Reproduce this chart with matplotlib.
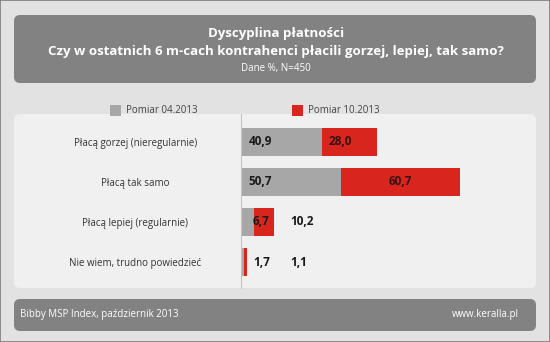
import matplotlib
matplotlib.use('Agg')
import matplotlib.pyplot as plt
from matplotlib.patches import FancyBboxPatch, Rectangle

plt.rcParams['font.family'] = ['Open Sans', 'DejaVu Sans']

# Data
categories = ['Płacą gorzej (nieregularnie)', 'Płacą tak samo',
              'Płacą lepiej (regularnie)', 'Nie wiem, trudno powiedzieć']
pomiar_04 = [40.9, 50.7, 6.7, 1.7]
pomiar_10 = [28.0, 60.7, 10.2, 1.1]
series_names = ['Pomiar 04.2013', 'Pomiar 10.2013']

title = 'Dyscyplina płatności'
subtitle = 'Czy w ostatnich 6 m-cach kontrahenci płacili gorzej, lepiej, tak samo?'
note = 'Dane %, N=450'
source = 'Bibby MSP Index, październik 2013'
site = 'www.keralla.pl'

W, H = 550, 342
GRAY = '#a7a7a7'
RED = '#d8261e'
BOX = '#828282'


def fx(x):
    return x / W


def fy(y):
    return 1 - y / H


fig = plt.figure(figsize=(W / 100, H / 100), dpi=100)
fig.patch.set_facecolor('#e2e2e2')

# outer frame
fig.add_artist(Rectangle((0, 0), 1, 1, transform=fig.transFigure,
                         fill=False, edgecolor='#7c7c7c', linewidth=1.2))


def rbox(x0, y0, x1, y1, color, r=6):
    p = FancyBboxPatch((fx(x0), fy(y1)), fx(x1 - x0), (y1 - y0) / H,
                       boxstyle='round,pad=0,rounding_size=%f' % (r / W),
                       transform=fig.transFigure, facecolor=color,
                       edgecolor='none', zorder=0, mutation_aspect=W / H)
    fig.add_artist(p)


rbox(14, 15, 536, 83, BOX)
rbox(14, 114, 536, 288, '#f0f0f0')
rbox(14, 299, 536, 331, BOX)

# title block
fig.text(fx(276), fy(34), title, color='white', fontsize=9.5,
         fontweight='bold', ha='center', va='center')
fig.text(fx(276), fy(52), subtitle, color='white', fontsize=9.5,
         fontweight='bold', ha='center', va='center')
fig.text(fx(276), fy(68), note, color='white', fontsize=7,
         ha='center', va='center')

# legend
fig.add_artist(Rectangle((fx(110), fy(116)), fx(11), 11 / H,
                         transform=fig.transFigure, facecolor=GRAY, edgecolor='none'))
fig.text(fx(126), fy(110.5), series_names[0], color='#444444', fontsize=7,
         ha='left', va='center')
fig.add_artist(Rectangle((fx(291.5), fy(116)), fx(11), 11 / H,
                         transform=fig.transFigure, facecolor=RED, edgecolor='none'))
fig.text(fx(308.5), fy(110.5), series_names[1], color='#444444', fontsize=7,
         ha='left', va='center')

# footer
fig.text(fx(20), fy(314), source, color='white', fontsize=7, ha='left', va='center')
fig.text(fx(519), fy(314), site, color='white', fontsize=7, ha='right', va='center')

# bars
ax = fig.add_axes([fx(241), fy(288), fx(536 - 241), (288 - 114) / H])
ax.patch.set_visible(False)
pos = list(range(len(categories)))
ax.barh(pos, pomiar_04, height=0.7, color=GRAY, label=series_names[0])
ax.barh(pos, pomiar_10, left=pomiar_04, height=0.7, color=RED, label=series_names[1])
ax.set_xlim(0, (536 - 241) / 1.97)
ax.set_ylim(3.65, -0.7)

for i in pos:
    g, r = pomiar_04[i], pomiar_10[i]
    ax.text(4 if g > 20 else 6, i, f'{g:.1f}'.replace('.', ','),
            fontsize=8.5, fontweight='bold', color='#1a1a1a', ha='left', va='center')
    if r > 40:
        ax.text(g + r / 2, i, f'{r:.1f}'.replace('.', ','), fontsize=8.5,
                fontweight='bold', color='#3a1010', ha='center', va='center')
    elif r > 20:
        ax.text(g + 3.5, i, f'{r:.1f}'.replace('.', ','), fontsize=8.5,
                fontweight='bold', color='#3a1010', ha='left', va='center')
    else:
        ax.text(25, i, f'{r:.1f}'.replace('.', ','), fontsize=8.5,
                fontweight='bold', color='#1a1a1a', ha='left', va='center')

ax.set_yticks(pos)
ax.set_yticklabels(categories, fontsize=7, color='#333333')
for lbl in ax.get_yticklabels():
    lbl.set_ha('center')
ax.tick_params(axis='y', length=0, pad=76)
ax.set_xticks([])
for s in ['top', 'right', 'bottom']:
    ax.spines[s].set_visible(False)
ax.spines['left'].set_color('#c4c4c4')
ax.spines['left'].set_linewidth(0.8)

fig.savefig('out.png', dpi=100, facecolor=fig.get_facecolor())
